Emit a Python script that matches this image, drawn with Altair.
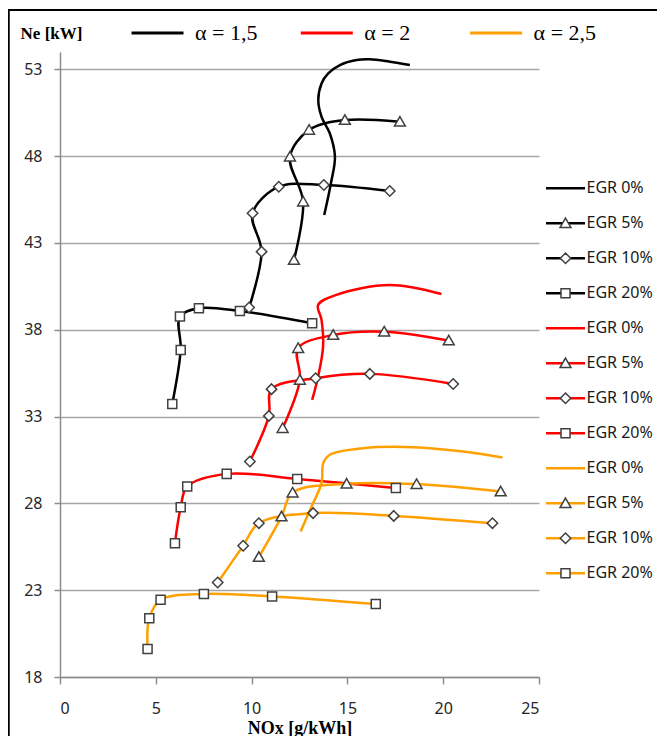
import altair as alt
import pandas as pd

# ---------------- categories / labels ----------------
alpha_labels = ["α = 1,5", "α = 2", "α = 2,5"]
egr_labels = ["EGR 0%", "EGR 5%", "EGR 10%", "EGR 20%"]
alpha_colors = ["#000000", "#FF0000", "#FFA000"]

x_ticks = [0, 5, 10, 15, 20, 25]
y_ticks = [18, 23, 28, 33, 38, 43, 48, 53]

# ---------------- α = 1,5 (black) ----------------
a15_egr0_nox = [13.79, 14.14, 14.35, 14.08, 13.65, 13.48, 13.65, 14.0, 14.61, 15.48, 16.17, 17.21, 18.26]
a15_egr0_ne = [44.61, 46.44, 47.97, 49.32, 50.27, 51.23, 52.19, 52.77, 53.25, 53.54, 53.58, 53.44, 53.25]
a15_egr5_nox = [12.21, 12.69, 12.0, 13.0, 14.87, 17.74]
a15_egr5_ne = [42.02, 45.38, 47.97, 49.51, 50.08, 49.98]
a15_egr10_nox = [9.87, 10.52, 10.05, 11.42, 13.77, 17.21]
a15_egr10_ne = [39.28, 42.5, 44.71, 46.24, 46.34, 45.99]
a15_egr20_nox = [5.86, 6.3, 6.26, 7.25, 9.39, 13.16]
a15_egr20_ne = [33.73, 36.84, 38.76, 39.24, 39.08, 38.38]

# ---------------- α = 2 (red) ----------------
a2_egr0_nox = [13.16, 13.47, 13.73, 13.65, 13.47, 14.43, 17.21, 19.91]
a2_egr0_ne = [33.96, 35.3, 37.03, 38.57, 39.43, 40.01, 40.58, 40.06]
a2_egr5_nox = [11.62, 12.52, 12.43, 14.26, 16.92, 20.29]
a2_egr5_ne = [32.33, 35.11, 36.94, 37.7, 37.89, 37.38]
a2_egr10_nox = [9.91, 10.9, 11.04, 13.34, 16.17, 20.52]
a2_egr10_ne = [30.41, 33.04, 34.58, 35.21, 35.46, 34.88]
a2_egr20_nox = [6.0, 6.3, 6.64, 8.7, 12.38, 17.53]
a2_egr20_ne = [25.71, 27.78, 28.97, 29.7, 29.41, 28.88]

# ---------------- α = 2,5 (orange) ----------------
a25_egr0_nox = [12.56, 13.13, 13.65, 13.74, 14.08, 15.82, 18.43, 21.04, 23.09]
a25_egr0_ne = [26.38, 27.82, 29.17, 30.32, 30.8, 31.18, 31.24, 30.99, 30.64]
a25_egr5_nox = [10.38, 11.56, 12.14, 14.96, 18.61, 23.0]
a25_egr5_ne = [24.91, 27.24, 28.62, 29.13, 29.11, 28.68]
a25_egr10_nox = [8.23, 9.56, 10.38, 13.21, 17.42, 22.57]
a25_egr10_ne = [23.44, 25.56, 26.86, 27.44, 27.28, 26.86]
a25_egr20_nox = [4.57, 4.66, 5.25, 7.51, 11.07, 16.48]
a25_egr20_ne = [19.61, 21.39, 22.45, 22.78, 22.64, 22.2]

series = [
    ("α = 1,5", "EGR 0%", a15_egr0_nox, a15_egr0_ne),
    ("α = 1,5", "EGR 5%", a15_egr5_nox, a15_egr5_ne),
    ("α = 1,5", "EGR 10%", a15_egr10_nox, a15_egr10_ne),
    ("α = 1,5", "EGR 20%", a15_egr20_nox, a15_egr20_ne),
    ("α = 2", "EGR 0%", a2_egr0_nox, a2_egr0_ne),
    ("α = 2", "EGR 5%", a2_egr5_nox, a2_egr5_ne),
    ("α = 2", "EGR 10%", a2_egr10_nox, a2_egr10_ne),
    ("α = 2", "EGR 20%", a2_egr20_nox, a2_egr20_ne),
    ("α = 2,5", "EGR 0%", a25_egr0_nox, a25_egr0_ne),
    ("α = 2,5", "EGR 5%", a25_egr5_nox, a25_egr5_ne),
    ("α = 2,5", "EGR 10%", a25_egr10_nox, a25_egr10_ne),
    ("α = 2,5", "EGR 20%", a25_egr20_nox, a25_egr20_ne),
]

records = []
for alpha, egr, xs, ys in series:
    for i, (xv, yv) in enumerate(zip(xs, ys)):
        records.append({"alpha": alpha, "egr": egr, "key": f"{alpha}|{egr}",
                        "step": i, "nox": xv, "ne": yv})
df = pd.DataFrame(records)

# ---------------- styling ----------------
LABEL_FONT = "Noto Sans"
SERIF = "Liberation Serif"
AXIS_GRAY = "#8c8c8c"
MARK_STROKE = "#404040"
PLOT_W, PLOT_H = 479, 625

marker_egr = ["EGR 5%", "EGR 10%", "EGR 20%"]
marker_paths = [
    "M0,-1.1L1.15,0.9L-1.15,0.9Z",           # triangle
    "M0,-1.1L1.1,0L0,1.1L-1.1,0Z",           # diamond
    "M-0.95,-0.95H0.95V0.95H-0.95Z",         # square
]
color_scale = alt.Scale(domain=alpha_labels, range=alpha_colors)
shape_scale = alt.Scale(domain=marker_egr, range=marker_paths)

# ---------------- main plot ----------------
x_scale = alt.Scale(domain=[0, 25], nice=False, zero=False)
y_scale = alt.Scale(domain=[18, 54], nice=False, zero=False)

x_enc = alt.X(
    "nox:Q", scale=x_scale,
    axis=alt.Axis(
        values=x_ticks, title="NOx [g/kWh]", grid=False,
        tickSize=7, tickColor=AXIS_GRAY, tickWidth=1.5,
        domainColor=AXIS_GRAY, domainWidth=1.5,
        labelFont=LABEL_FONT, labelFontSize=16, labelColor="#262626", labelPadding=16,
        titleFont=SERIF, titleFontSize=18, titleFontWeight="bold", titleColor="black",
        titleY=56, titleBaseline="alphabetic",
    ),
)
y_enc = alt.Y(
    "ne:Q", scale=y_scale,
    axis=alt.Axis(
        values=y_ticks, title="Ne [kW]", grid=True, gridColor="#a6a6a6", gridWidth=1.5,
        tickSize=6, tickColor=AXIS_GRAY, tickWidth=1.5,
        domainColor=AXIS_GRAY, domainWidth=1.5,
        labelFont=LABEL_FONT, labelFontSize=16, labelColor="#262626", labelPadding=12,
        titleFont=SERIF, titleFontSize=17, titleFontWeight="bold", titleColor="black",
        titleAngle=0, titleX=-9, titleY=-19, titleAlign="center", titleBaseline="middle",
    ),
)

base = alt.Chart(df)
lines = base.mark_line(interpolate="catmull-rom", strokeWidth=2.5).encode(
    x=x_enc, y=y_enc,
    color=alt.Color("alpha:N", scale=color_scale, legend=None),
    detail="key:N",
    order="step:Q",
)
points = base.transform_filter("datum.egr != 'EGR 0%'").mark_point(
    size=90, filled=True, fill="white", stroke=MARK_STROKE, strokeWidth=1.5, opacity=1
).encode(
    x=x_enc, y=y_enc,
    shape=alt.Shape("egr:N", scale=shape_scale, legend=None),
)
main = alt.layer(lines, points)

# ---------------- legends (pixel-unit scales, built from the labels) ----------------
leg_rows = []
for ai, alpha in enumerate(alpha_labels):
    for ei, egr in enumerate(egr_labels):
        row = ai * len(egr_labels) + ei
        leg_rows.append({"alpha": alpha, "egr": egr, "label": egr,
                         "x0": 486, "x1": 525, "xm": 505.5, "xt": 526.5,
                         "y": 136.3 + 35 * row})
leg_df = pd.DataFrame(leg_rows)

top_rows = []
for ai, alpha in enumerate(alpha_labels):
    start = 71.5 + 169.3 * ai
    top_rows.append({"alpha": alpha, "label": alpha,
                     "x0": start, "x1": start + 52, "xt": start + 63.5, "y": -19})
top_df = pd.DataFrame(top_rows)

lx = alt.Scale(domain=[0, PLOT_W], range=[0, PLOT_W], nice=False, zero=False)
ly = alt.Scale(domain=[0, PLOT_H], range=[0, PLOT_H], nice=False, zero=False)

def LX(f):
    return alt.X(f, type="quantitative", scale=lx, axis=None)

def LY(f):
    return alt.Y(f, type="quantitative", scale=ly, axis=None)

leg_lines = alt.Chart(leg_df).mark_rule(strokeWidth=2.5).encode(
    x=LX("x0"), x2="x1", y=LY("y"),
    color=alt.Color("alpha:N", scale=color_scale, legend=None),
)
leg_marks = alt.Chart(leg_df).transform_filter("datum.egr != 'EGR 0%'").mark_point(
    size=90, filled=True, fill="white", stroke=MARK_STROKE, strokeWidth=1.5, opacity=1
).encode(
    x=LX("xm"), y=LY("y"),
    shape=alt.Shape("egr:N", scale=shape_scale, legend=None),
)
leg_text = alt.Chart(leg_df).mark_text(
    align="left", baseline="middle", font=LABEL_FONT, fontSize=16, color="#1a1a1a"
).encode(x=LX("xt"), y=LY("y"), text="label:N")

top_lines = alt.Chart(top_df).mark_rule(strokeWidth=3).encode(
    x=LX("x0"), x2="x1", y=LY("y"),
    color=alt.Color("alpha:N", scale=color_scale, legend=None),
)
top_text = alt.Chart(top_df).mark_text(
    align="left", baseline="middle", font=SERIF, fontSize=22, color="black"
).encode(x=LX("xt"), y=LY("y"), text="label:N")

frame_data = alt.Data(values=[{"f": 0}])
frame_top = alt.Chart(frame_data).mark_rule(color="black", strokeWidth=2).encode(
    x=alt.value(-52), x2=alt.value(620), y=alt.value(-42)
)
frame_left = alt.Chart(frame_data).mark_rule(color="black", strokeWidth=2.5).encode(
    x=alt.value(-51.5), y=alt.value(-43), y2=alt.value(700)
)

legend_layer = alt.layer(leg_lines, leg_marks, leg_text, top_lines, top_text, frame_top, frame_left)

chart = alt.layer(main, legend_layer).resolve_scale(
    x="independent", y="independent"
).properties(
    width=PLOT_W, height=PLOT_H,
    autosize=alt.AutoSizeParams(type="none"),
    padding={"left": 52, "top": 44, "right": 118, "bottom": 59},
    background="white",
).configure_view(stroke=None)

chart.save("out.html", embed_options={"renderer": "svg", "actions": False})
